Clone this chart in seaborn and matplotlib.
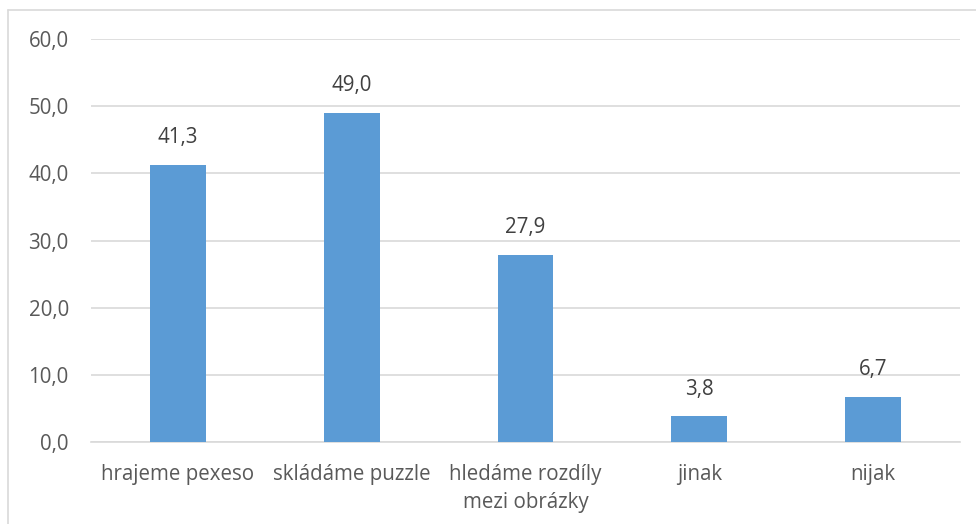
import matplotlib
matplotlib.use("Agg")
import matplotlib.pyplot as plt
import seaborn as sns
import pandas as pd
from matplotlib.lines import Line2D

categories = ["hrajeme pexeso", "skládáme puzzle", "hledáme rozdíly\nmezi obrázky", "jinak", "nijak"]
values = [41.3, 49.0, 27.9, 3.8, 6.7]
yticks = [0, 10, 20, 30, 40, 50, 60]

sns.set_theme(style="white")
plt.rcParams['font.family'] = ['Open Sans', 'DejaVu Sans']

df = pd.DataFrame({"cat": categories, "val": values})

fig = plt.figure(figsize=(9.76, 5.24), dpi=100)
ax = fig.add_axes([91/976, 1-442/524, (960-91)/976, (442-39)/524])

sns.barplot(data=df, x="cat", y="val", color="#5B9BD5", width=0.32, saturation=1,
            linewidth=0, ax=ax, zorder=3)

ax.set_ylim(0, 60)
ax.set_yticks(yticks)
ax.set_yticklabels([f"{t:.1f}".replace(".", ",") for t in yticks])
ax.yaxis.grid(True, color="#D9D9D9", linewidth=1.2, zorder=0)
ax.set_axisbelow(True)
for s in ["top", "right", "left"]:
    ax.spines[s].set_visible(False)
ax.spines["bottom"].set_color("#D9D9D9")
ax.spines["bottom"].set_linewidth(1.2)
ax.set_xlabel("")
ax.set_ylabel("")
ax.tick_params(axis="both", length=0, labelsize=14.8, colors="#595959")
ax.tick_params(axis="y", pad=16)
ax.tick_params(axis="x", pad=16)
for t in ax.get_xticklabels():
    t.set_linespacing(1.45)

ax.bar_label(ax.containers[0], labels=[f"{v:.1f}".replace(".", ",") for v in values],
             padding=12, fontsize=14.8, color="#404040")

# outer chart border (left and top visible)
fig.add_artist(Line2D([8/976, 8/976], [0, 1-10/524], transform=fig.transFigure, color="#D9D9D9", lw=1.2))
fig.add_artist(Line2D([8/976, 1], [1-10/524, 1-10/524], transform=fig.transFigure, color="#D9D9D9", lw=1.2))

fig.savefig("out.png", dpi=100)
